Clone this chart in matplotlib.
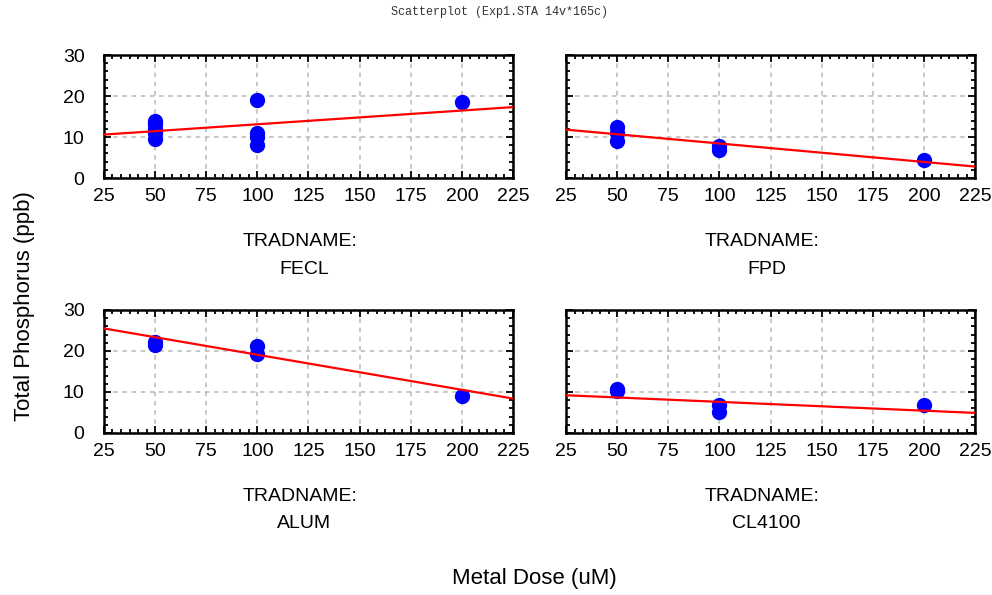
import matplotlib.pyplot as plt
from matplotlib.ticker import MultipleLocator, AutoMinorLocator

# tradename panels, in reading order
tradenames = ["FECL", "FPD", "ALUM", "CL4100"]

# dose (uM) and total phosphorus (ppb) per panel
fecl_dose = [50, 50, 50, 50, 50, 100, 100, 100, 100, 200]
fecl_tp = [14.0, 13.2, 12.0, 11.0, 9.5, 19.0, 11.0, 10.0, 8.0, 18.5]
fpd_dose = [50, 50, 50, 100, 100, 200]
fpd_tp = [12.5, 11.0, 9.0, 7.8, 6.8, 4.4]
alum_dose = [50, 50, 100, 100, 200]
alum_tp = [22.3, 21.5, 21.3, 19.2, 9.0]
cl_dose = [50, 50, 100, 100, 200]
cl_tp = [10.8, 10.3, 6.8, 5.2, 6.8]

# fitted line, read at the two ends of the x range
fit_x = [25, 225]
fecl_fit = [10.6, 17.3]
fpd_fit = [11.8, 2.8]
alum_fit = [25.5, 8.4]
cl_fit = [9.2, 4.9]

doses = [fecl_dose, fpd_dose, alum_dose, cl_dose]
tps = [fecl_tp, fpd_tp, alum_tp, cl_tp]
fits = [fecl_fit, fpd_fit, alum_fit, cl_fit]

plt.rcParams['font.family'] = ['Liberation Sans', 'DejaVu Sans']

fig = plt.figure(figsize=(9.92, 5.95), dpi=100)

# axes boxes in figure fractions
lefts = [0.1048, 0.5706, 0.1048, 0.5706]
bottoms = [0.7008, 0.7008, 0.2723, 0.2723]
w, h = 0.4123, 0.2067

for i in range(4):
    ax = fig.add_axes([lefts[i], bottoms[i], w, h])
    ax.plot(doses[i], tps[i], 'o', color='#0000ff', ms=10, zorder=3)
    ax.plot(fit_x, fits[i], color='red', lw=1.6, zorder=4)
    ax.set_xlim(25, 225)
    ax.set_ylim(0, 30)
    ax.xaxis.set_major_locator(MultipleLocator(25))
    ax.yaxis.set_major_locator(MultipleLocator(10))
    ax.xaxis.set_minor_locator(AutoMinorLocator(6))
    ax.yaxis.set_minor_locator(AutoMinorLocator(5))
    ax.grid(True, which='major', color='#b8b8b8', ls=(0, (3, 3)), lw=1.1)
    ax.tick_params(which='both', direction='in', top=True, right=True, width=1.3)
    ax.tick_params(which='major', length=5, labelsize=14)
    ax.tick_params(which='minor', length=3)
    ax.tick_params(axis='x', pad=7)
    ax.tick_params(axis='y', pad=14)
    for s in ax.spines.values():
        s.set_linewidth(1.8)
    if i % 2 == 1:
        ax.tick_params(axis='y', labelleft=False)
    ax.text(0.48, -0.52, "TRADNAME:", transform=ax.transAxes, ha='center', va='center', fontsize=14)
    ax.text(0.49, -0.74, tradenames[i], transform=ax.transAxes, ha='center', va='center', fontsize=14)

fig.text(0.504, 0.98, "Scatterplot (Exp1.STA 14v*165c)", ha='center', va='center',
         fontsize=8.5, family='Liberation Mono', color='#333333')
fig.text(0.539, 0.028, "Metal Dose (uM)", ha='center', va='center', fontsize=16)
fig.text(0.025, 0.485, "Total Phosphorus (ppb)", ha='center', va='center', fontsize=16, rotation=90)

fig.savefig("out.png", dpi=100)
